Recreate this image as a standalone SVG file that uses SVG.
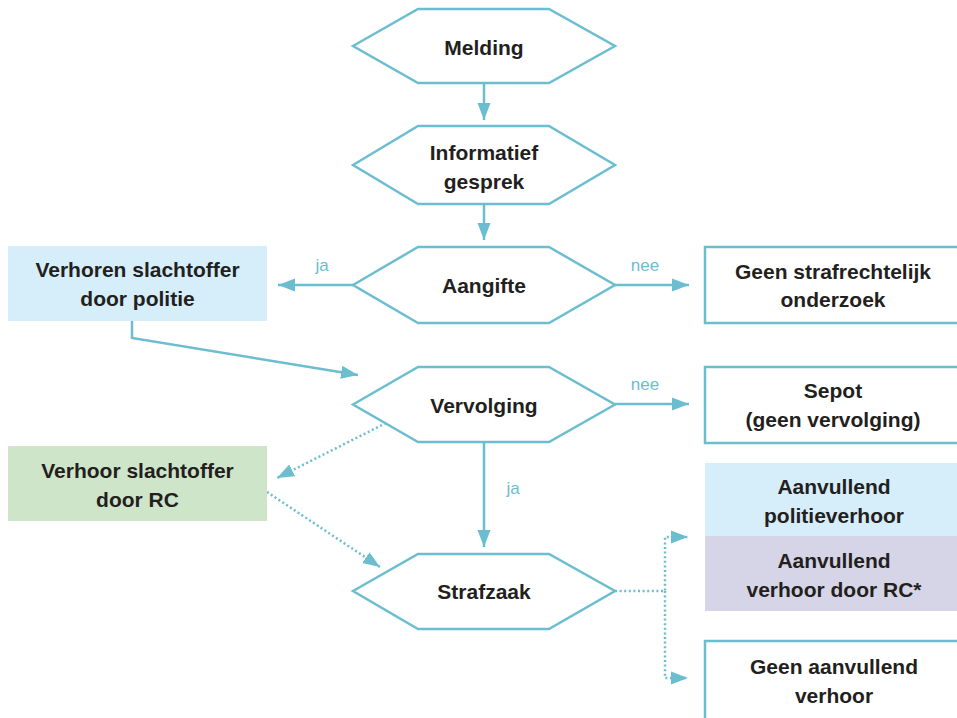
<svg xmlns="http://www.w3.org/2000/svg" width="957" height="718" viewBox="0 0 957 718">
<defs>
<style>
.hex{fill:#ffffff;stroke:#6bbdd0;stroke-width:2.5;stroke-linejoin:miter}
.box{fill:#ffffff;stroke:#6bbdd0;stroke-width:2.5}
.t{font-family:"Liberation Sans",Arial,sans-serif;font-weight:bold;font-size:21px;fill:#231f20;text-anchor:middle}
.lbl{font-family:"Liberation Sans",Arial,sans-serif;font-size:17px;fill:#6bbdd0;text-anchor:middle}
.c{fill:none;stroke:#6bbdd0;stroke-width:2.5}
.d{fill:none;stroke:#6bbdd0;stroke-width:2.5;stroke-dasharray:2 2.6}
</style>
<marker id="ah" markerUnits="userSpaceOnUse" markerWidth="18" markerHeight="14" refX="17" refY="7" orient="auto" viewBox="0 0 18 14">
<path d="M0,0.5 L17,7 L0,13.5 z" fill="#6bbdd0"/>
</marker>
</defs>
<rect width="957" height="718" fill="#ffffff"/>

<g id="connectors">
<line class="c" x1="484" y1="83" x2="484" y2="120" marker-end="url(#ah)"/>
<line class="c" x1="484" y1="204" x2="484" y2="240" marker-end="url(#ah)"/>
<line class="c" x1="353" y1="285" x2="278" y2="285" marker-end="url(#ah)"/>
<text class="lbl" x="322" y="271">ja</text>
<line class="c" x1="615" y1="285" x2="689" y2="285" marker-end="url(#ah)"/>
<text class="lbl" x="645" y="271">nee</text>
<polyline class="c" points="132,321 132,338 358,375" marker-end="url(#ah)"/>
<line class="c" x1="615" y1="404" x2="689" y2="404" marker-end="url(#ah)"/>
<text class="lbl" x="645" y="390">nee</text>
<line class="d" x1="386" y1="423" x2="277" y2="478" marker-end="url(#ah)"/>
<line class="d" x1="267" y1="492" x2="380" y2="567" marker-end="url(#ah)"/>
<line class="c" x1="484" y1="442" x2="484" y2="547" marker-end="url(#ah)"/>
<text class="lbl" x="513" y="494">ja</text>
<polyline class="d" points="615,591 665,591 665,537 688,537" marker-end="url(#ah)"/>
<polyline class="d" points="665,591 665,678 688,678" marker-end="url(#ah)"/>
</g>

<g id="melding">
<polygon class="hex" points="353,46 418,9 549,9 615,46 549,83 418,83"/>
<text class="t" x="484" y="55">Melding</text>
</g>
<g id="informatief">
<polygon class="hex" points="353,165 418,126 549,126 615,165 549,204 418,204"/>
<text class="t" x="484" y="160">Informatief</text>
<text class="t" x="484" y="189">gesprek</text>
</g>
<g id="aangifte">
<polygon class="hex" points="353,285 418,247 549,247 615,285 549,323 418,323"/>
<text class="t" x="484" y="293">Aangifte</text>
</g>
<g id="vervolging">
<polygon class="hex" points="353,404.5 418,367 549,367 615,404.5 549,442 418,442"/>
<text class="t" x="484" y="413">Vervolging</text>
</g>
<g id="strafzaak">
<polygon class="hex" points="353,591 418,554 549,554 615,591 549,629 418,629"/>
<text class="t" x="484" y="599">Strafzaak</text>
</g>

<g id="verhoren-politie">
<rect x="8" y="246" width="259" height="75" fill="#d5eefa"/>
<text class="t" x="137.5" y="277">Verhoren slachtoffer</text>
<text class="t" x="137.5" y="306">door politie</text>
</g>
<g id="verhoor-rc">
<rect x="8" y="446" width="259" height="75" fill="#cfe5ca"/>
<text class="t" x="137.5" y="478">Verhoor slachtoffer</text>
<text class="t" x="137.5" y="507">door RC</text>
</g>
<g id="geen-strafrechtelijk">
<rect class="box" x="705" y="247" width="260" height="76"/>
<text class="t" x="833" y="279">Geen strafrechtelijk</text>
<text class="t" x="833" y="307">onderzoek</text>
</g>
<g id="sepot">
<rect class="box" x="705" y="367" width="260" height="76"/>
<text class="t" x="833" y="398">Sepot</text>
<text class="t" x="833" y="427">(geen vervolging)</text>
</g>
<g id="aanvullend-politie">
<rect x="705" y="463" width="260" height="73" fill="#d5eefa"/>
<text class="t" x="834" y="494">Aanvullend</text>
<text class="t" x="834" y="523">politieverhoor</text>
</g>
<g id="aanvullend-rc">
<rect x="705" y="536" width="260" height="75" fill="#d5d5e7"/>
<text class="t" x="834" y="568">Aanvullend</text>
<text class="t" x="834" y="597">verhoor door RC*</text>
</g>
<g id="geen-aanvullend">
<rect class="box" x="705" y="641" width="260" height="90"/>
<text class="t" x="834" y="674">Geen aanvullend</text>
<text class="t" x="834" y="703">verhoor</text>
</g>
</svg>
